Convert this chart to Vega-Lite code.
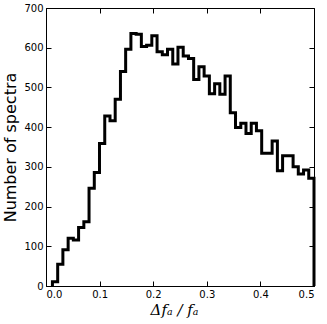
{
  "$schema": "https://vega.github.io/schema/vega-lite/v6.json",
  "width": 268,
  "height": 278,
  "autosize": {"type": "none"},
  "padding": {"left": 46, "top": 8, "right": 13, "bottom": 38},
  "background": "white",
  "config": {
    "view": {"stroke": "black", "strokeWidth": 1},
    "axis": {
      "grid": false,
      "domainColor": "black",
      "tickColor": "black",
      "labelColor": "black",
      "titleColor": "black",
      "labelFont": "DejaVu Sans",
      "labelFontSize": 10,
      "tickSize": -5,
      "tickWidth": 1
    }
  },
  "data": {
    "values": [
      {"x": 0.0120, "n": 0},
      {"x": 0.0120, "n": 11},
      {"x": 0.0218, "n": 55},
      {"x": 0.0315, "n": 91},
      {"x": 0.0413, "n": 120},
      {"x": 0.0510, "n": 116},
      {"x": 0.0608, "n": 147},
      {"x": 0.0706, "n": 162},
      {"x": 0.0803, "n": 246},
      {"x": 0.0901, "n": 286},
      {"x": 0.0998, "n": 359},
      {"x": 0.1096, "n": 428},
      {"x": 0.1194, "n": 416},
      {"x": 0.1291, "n": 470},
      {"x": 0.1389, "n": 540},
      {"x": 0.1486, "n": 596},
      {"x": 0.1584, "n": 636},
      {"x": 0.1682, "n": 634},
      {"x": 0.1779, "n": 603},
      {"x": 0.1877, "n": 606},
      {"x": 0.1974, "n": 630},
      {"x": 0.2072, "n": 590},
      {"x": 0.2170, "n": 582},
      {"x": 0.2267, "n": 596},
      {"x": 0.2365, "n": 559},
      {"x": 0.2462, "n": 601},
      {"x": 0.2560, "n": 579},
      {"x": 0.2658, "n": 573},
      {"x": 0.2755, "n": 520},
      {"x": 0.2853, "n": 552},
      {"x": 0.2950, "n": 529},
      {"x": 0.3048, "n": 484},
      {"x": 0.3146, "n": 509},
      {"x": 0.3243, "n": 483},
      {"x": 0.3341, "n": 529},
      {"x": 0.3438, "n": 436},
      {"x": 0.3536, "n": 399},
      {"x": 0.3634, "n": 410},
      {"x": 0.3731, "n": 384},
      {"x": 0.3829, "n": 410},
      {"x": 0.3926, "n": 391},
      {"x": 0.4024, "n": 334},
      {"x": 0.4122, "n": 334},
      {"x": 0.4219, "n": 365},
      {"x": 0.4317, "n": 290},
      {"x": 0.4414, "n": 328},
      {"x": 0.4512, "n": 328},
      {"x": 0.4610, "n": 300},
      {"x": 0.4707, "n": 282},
      {"x": 0.4805, "n": 292},
      {"x": 0.4902, "n": 271},
      {"x": 0.5000, "n": 271},
      {"x": 0.5000, "n": 0}
    ]
  },
  "layer": [
    {
      "mark": {"type": "line", "interpolate": "step-after", "color": "black", "strokeWidth": 3},
      "encoding": {
        "x": {
          "field": "x", "type": "quantitative",
          "scale": {"domain": [0, 0.5], "nice": false, "zero": false},
          "axis": {
            "values": [0, 0.1, 0.2, 0.3, 0.4, 0.5], "format": ".1f",
            "labelPadding": 8, "title": "Δfₐ / fₐ",
            "titleFont": "DejaVu Serif", "titleFontStyle": "italic",
            "titleFontWeight": "normal", "titleFontSize": 15, "titlePadding": 3,
            "titleX": 128
          }
        },
        "y": {
          "field": "n", "type": "quantitative",
          "scale": {"domain": [0, 700], "nice": false},
          "axis": {
            "values": [0, 100, 200, 300, 400, 500, 600, 700],
            "labelPadding": 8, "title": "Number of spectra",
            "titleFont": "DejaVu Sans", "titleFontWeight": "normal",
            "titleFontSize": 16, "titlePadding": 5
          }
        }
      }
    },
    {
      "mark": {"type": "line", "interpolate": "step-after", "opacity": 0},
      "encoding": {
        "x": {
          "field": "x", "type": "quantitative",
          "scale": {"domain": [0, 0.5], "nice": false, "zero": false},
          "axis": {"orient": "top", "values": [0, 0.1, 0.2, 0.3, 0.4, 0.5], "labels": false, "title": null, "domain": false}
        },
        "y": {
          "field": "n", "type": "quantitative",
          "scale": {"domain": [0, 700], "nice": false},
          "axis": {"orient": "right", "values": [0, 100, 200, 300, 400, 500, 600, 700], "labels": false, "title": null, "domain": false}
        }
      }
    }
  ],
  "resolve": {"axis": {"x": "independent", "y": "independent"}}
}
